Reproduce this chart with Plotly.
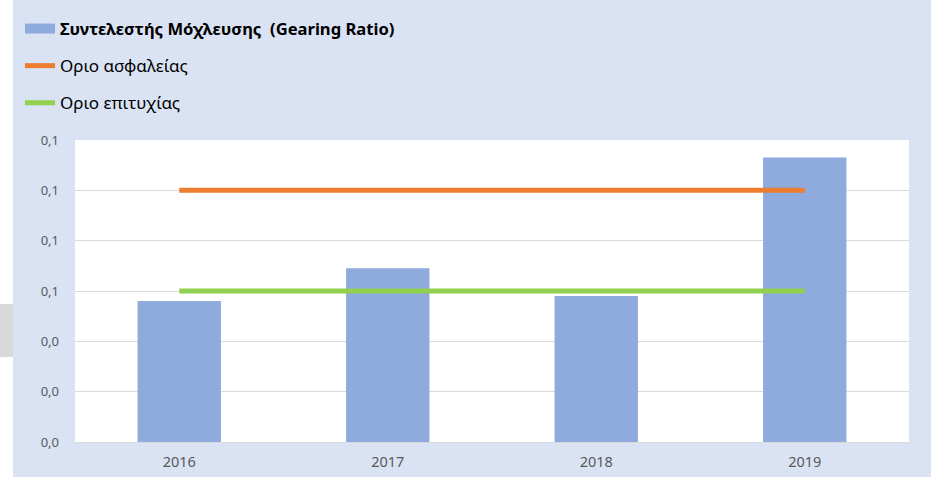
import plotly.graph_objects as go

years = ["2016", "2017", "2018", "2019"]
gearing_ratio = [0.056, 0.069, 0.058, 0.113]
safety_limit = [0.10, 0.10, 0.10, 0.10]
success_limit = [0.06, 0.06, 0.06, 0.06]
y_tickvals = [0.00, 0.02, 0.04, 0.06, 0.08, 0.10, 0.12]
y_ticktext = ["0,0", "0,0", "0,0", "0,1", "0,1", "0,1", "0,1"]

FONT = "Noto Sans"
W, H = 937, 478
L, R, T, B = 75, 28, 140, 36
pw, ph = W - L - R, H - T - B

def px(x):
    return (x - L) / pw

def py(y):
    return (H - B - y) / ph

BAR_NAME = "<span style='font-size:16.6px'><b>Συντελεστής Μόχλευσης\u00a0 (Gearing Ratio)</b></span>"

fig = go.Figure()
fig.add_trace(go.Bar(
    x=years, y=gearing_ratio, width=0.4, name=BAR_NAME,
    marker=dict(color="#8FAADC", line=dict(width=0)),
    legendgroup="a", showlegend=False,
))
# legend swatch for the bar series (wide rectangle like the original)
fig.add_trace(go.Scatter(
    x=[None], y=[None], mode="lines", name=BAR_NAME,
    line=dict(color="#8FAADC", width=10), legendgroup="a",
))
fig.add_trace(go.Scatter(
    x=years, y=safety_limit, mode="lines", name="Οριο ασφαλείας",
    line=dict(color="#ED7D31", width=5), legendgroup="b",
))
fig.add_trace(go.Scatter(
    x=years, y=success_limit, mode="lines", name="Οριο επιτυχίας",
    line=dict(color="#92D050", width=5), legendgroup="c",
))

shapes = [
    dict(type="rect", xref="paper", yref="paper", x0=px(13), x1=px(931), y0=py(477), y1=py(0),
         fillcolor="#DAE3F3", line=dict(width=0), layer="below"),
    dict(type="rect", xref="paper", yref="paper", x0=px(0), x1=px(13), y0=py(357), y1=py(304),
         fillcolor="#D9D9D9", line=dict(width=0), layer="below"),
    dict(type="rect", xref="paper", yref="paper", x0=0, x1=1, y0=0, y1=1,
         fillcolor="white", line=dict(width=0), layer="below"),
]

fig.update_layout(
    width=W, height=H,
    margin=dict(l=L, r=R, t=T, b=B, pad=0, autoexpand=False),
    paper_bgcolor="white", plot_bgcolor="rgba(0,0,0,0)",
    font=dict(family=FONT, size=13, color="#595959"),
    shapes=shapes,
    showlegend=True,
    legend=dict(
        x=px(20), y=py(11), xanchor="left", yanchor="top",
        bgcolor="rgba(0,0,0,0)", font=dict(family=FONT, size=17, color="#000000"),
        tracegroupgap=12, itemwidth=30, traceorder="grouped",
    ),
    xaxis=dict(
        type="category", showgrid=False, zeroline=False, showline=False, automargin=False,
        ticks="", tickfont=dict(size=14.5, color="#595959"), ticklabelstandoff=9,
    ),
    yaxis=dict(
        range=[0, 0.12], tickvals=y_tickvals, ticktext=y_ticktext, automargin=False,
        showgrid=True, gridcolor="#D9D9D9", gridwidth=1, zeroline=True,
        zerolinecolor="#D9D9D9", zerolinewidth=1, showline=False, ticks="",
        tickfont=dict(size=13, color="#595959"), ticklabelstandoff=15,
    ),
)

fig.write_html("out.html", config={"displayModeBar": False},
               post_script="document.body.style.margin='0';")
